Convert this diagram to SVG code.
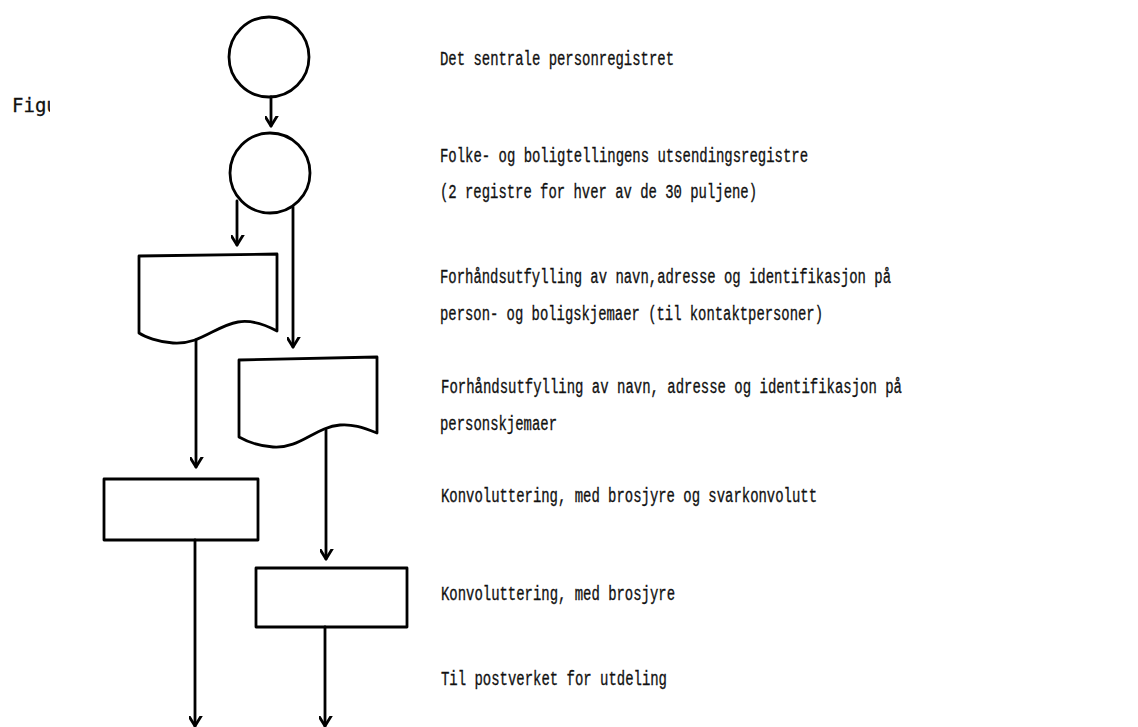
<svg xmlns="http://www.w3.org/2000/svg" width="1138" height="727" viewBox="0 0 1138 727">
<style>
.s{fill:none;stroke:#000;stroke-width:2.8;stroke-linejoin:round;stroke-linecap:round}
.t{font-family:"Liberation Mono","Courier New",monospace;font-size:20px;fill:#111;stroke:#111;stroke-width:0.35}
.f{font-family:"DejaVu Sans Mono",monospace;font-size:19px;fill:#111;stroke:#111;stroke-width:0.3}
</style>
<defs>
<marker id="ah" markerWidth="20" markerHeight="20" viewBox="-10 -14 20 20" refX="0" refY="0" markerUnits="userSpaceOnUse" orient="auto-start-reverse">
<path d="M-8,-13 L0,0 L8,-13" fill="none" stroke="#000" stroke-width="2.8" stroke-linecap="round" stroke-linejoin="round" transform="rotate(-90)"/>
</marker>
<clipPath id="fc"><rect x="0" y="80" width="50" height="50"/></clipPath>
</defs>
<rect width="1138" height="727" fill="#fff"/>
<g id="fig"><text class="f" x="12" y="112" clip-path="url(#fc)">Figu</text></g>
<g id="n1"><circle class="s" cx="269" cy="57" r="40"/></g>
<g id="n2"><circle class="s" cx="270" cy="173" r="40"/></g>
<g id="n3"><path class="s" d="M139,256 L277,254 L277,331 C262,323 250,320 238,322 C215,326 200,345 173,343 C158,342 145,337 139,333 Z"/></g>
<g id="n4"><path class="s" d="M239,360 L377,357 L377,433 C362,427 352,424 340,425 C315,427 300,449 273,447 C258,446 246,441 239,437 Z"/></g>
<g id="n5"><rect class="s" x="104" y="479" width="154" height="61"/></g>
<g id="n6"><rect class="s" x="256" y="568" width="151" height="59"/></g>
<g id="connectors" class="s">
<line x1="271" y1="97" x2="271" y2="126" marker-end="url(#ah)"/>
<line x1="237" y1="201" x2="237" y2="245" marker-end="url(#ah)"/>
<line x1="293" y1="207" x2="293" y2="347" marker-end="url(#ah)"/>
<line x1="196" y1="340" x2="196" y2="467" marker-end="url(#ah)"/>
<line x1="326" y1="430" x2="326" y2="559" marker-end="url(#ah)"/>
<line x1="195" y1="540" x2="195" y2="726" marker-end="url(#ah)"/>
<line x1="325" y1="627" x2="325" y2="726" marker-end="url(#ah)"/>
</g>
<g id="labels">
<text class="t" x="440" y="65" textLength="234" lengthAdjust="spacingAndGlyphs">Det sentrale personregistret</text>
<text class="t" x="440" y="162" textLength="368" lengthAdjust="spacingAndGlyphs">Folke- og boligtellingens utsendingsregistre</text>
<text class="t" x="440" y="198" textLength="317" lengthAdjust="spacingAndGlyphs">(2 registre for hver av de 30 puljene)</text>
<text class="t" x="440" y="283" textLength="451" lengthAdjust="spacingAndGlyphs">Forhåndsutfylling av navn,adresse og identifikasjon på</text>
<text class="t" x="440" y="320" textLength="383" lengthAdjust="spacingAndGlyphs">person- og boligskjemaer (til kontaktpersoner)</text>
<text class="t" x="441" y="393" textLength="461" lengthAdjust="spacingAndGlyphs">Forhåndsutfylling av navn, adresse og identifikasjon på</text>
<text class="t" x="440" y="430" textLength="117" lengthAdjust="spacingAndGlyphs">personskjemaer</text>
<text class="t" x="441" y="502" textLength="376" lengthAdjust="spacingAndGlyphs">Konvoluttering, med brosjyre og svarkonvolutt</text>
<text class="t" x="441" y="600" textLength="234" lengthAdjust="spacingAndGlyphs">Konvoluttering, med brosjyre</text>
<text class="t" x="441" y="685" textLength="226" lengthAdjust="spacingAndGlyphs">Til postverket for utdeling</text>
</g>
</svg>
